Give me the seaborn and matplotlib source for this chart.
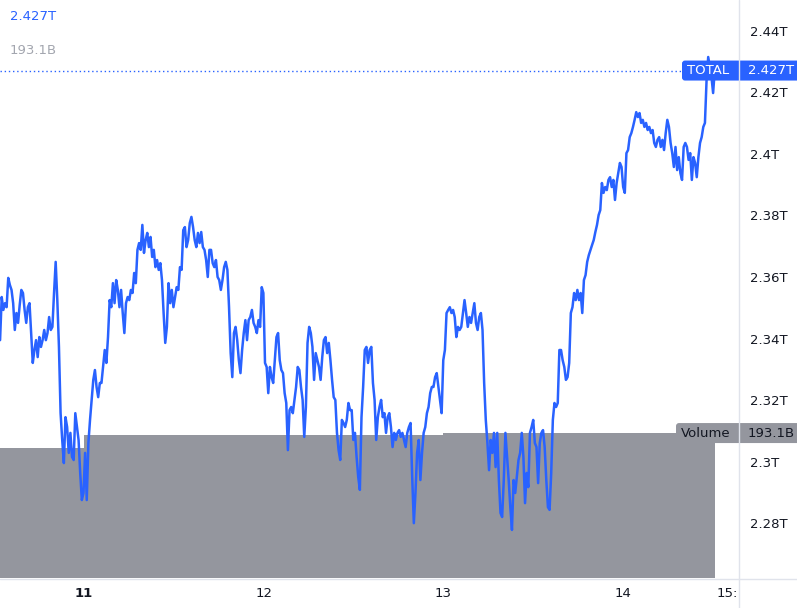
import numpy as np
import matplotlib
matplotlib.use("Agg")
import matplotlib.pyplot as plt
import seaborn as sns
from matplotlib.patches import FancyBboxPatch
from matplotlib.lines import Line2D
from matplotlib.ticker import FuncFormatter
from matplotlib.transforms import IdentityTransform, Bbox

# total crypto market cap (billions USD), evenly spaced in time
total_b = [
    2339.5, 2353.5, 2349.3, 2351.5, 2350.2, 2359.7, 2357.4, 2355.8, 2351.5, 2342.8, 2348.3,
    2345.1, 2350.9, 2355.8, 2354.8, 2349.3, 2345.1, 2350.2, 2351.5, 2341.8, 2332.1, 2336.3, 2339.5,
    2334.0, 2340.5, 2337.3, 2339.5, 2342.8, 2339.5, 2341.8, 2347.0, 2342.8, 2343.8, 2354.8,
    2364.9, 2352.5, 2337.3, 2315.8, 2307.1, 2299.6, 2314.5, 2311.3, 2302.9, 2309.4,
    2301.6, 2300.6, 2315.8, 2311.3, 2307.1, 2296.4, 2287.6, 2289.9, 2302.9, 2287.6,
    2306.1, 2313.6, 2320.1, 2326.6, 2329.8, 2324.3, 2321.0, 2325.6, 2325.6, 2330.8, 2336.3,
    2332.1, 2340.5, 2352.5, 2350.2, 2358.0, 2351.5, 2359.0, 2355.8, 2350.2, 2355.8,
    2348.3, 2341.8, 2351.5, 2353.5, 2352.5, 2355.8, 2354.8, 2361.3, 2358.0, 2368.8,
    2371.0, 2368.8,
    2376.9, 2367.8, 2372.0, 2374.3, 2369.7, 2373.0, 2366.5, 2368.8, 2363.2, 2365.5,
    2362.3, 2364.5, 2359.0, 2348.3, 2338.6, 2343.8, 2358.0, 2351.5, 2355.8, 2350.2,
    2353.5, 2356.7,
    2355.8, 2363.2, 2362.3, 2375.2, 2376.2, 2369.7, 2372.0, 2377.5, 2379.5, 2376.2,
    2372.0, 2369.7, 2374.3, 2371.0, 2374.6, 2369.7, 2368.8, 2365.5, 2360.0, 2368.8,
    2368.8, 2364.5, 2363.2, 2365.5, 2360.0, 2359.0, 2355.8, 2359.0, 2363.2, 2364.9,
    2362.3, 2350.2, 2335.3, 2327.5, 2341.8, 2343.8, 2339.5, 2333.0, 2328.8, 2336.3,
    2341.8, 2346.0, 2339.5, 2346.0, 2347.0, 2349.3, 2345.1, 2343.8, 2341.8, 2346.0,
    2343.8, 2356.7, 2354.8, 2332.1, 2330.8, 2322.3, 2330.8, 2327.5, 2325.6, 2333.0,
    2340.5, 2341.8, 2333.0, 2329.8, 2328.8, 2322.3, 2319.1, 2303.8, 2316.8, 2317.8,
    2315.8, 2320.1, 2324.3, 2330.8, 2329.8, 2324.3, 2320.1, 2308.1, 2317.8, 2338.6,
    2343.8, 2341.8, 2337.3, 2326.6, 2335.3, 2333.0, 2330.8, 2326.6, 2334.0, 2339.5,
    2340.5, 2335.3, 2338.6, 2333.0, 2326.6, 2321.0, 2320.1, 2309.4, 2303.8, 2300.6,
    2313.6, 2312.6, 2311.3, 2313.6, 2319.1, 2316.8, 2316.8, 2307.1, 2309.4, 2301.6,
    2295.1, 2290.9, 2314.5, 2324.3, 2336.3, 2337.3, 2332.1, 2336.3, 2337.3, 2325.6,
    2320.1, 2307.1, 2314.5, 2317.8, 2320.1, 2314.5, 2315.8, 2309.4, 2314.5, 2315.8,
    2311.3, 2304.8, 2309.4, 2307.1, 2309.4, 2310.3, 2308.1, 2309.4, 2307.1, 2304.8,
    2309.4, 2311.3, 2312.6, 2295.1, 2280.1, 2289.9, 2302.9, 2307.1, 2294.1, 2302.9,
    2309.4, 2311.3, 2315.8, 2317.8, 2322.3, 2324.3, 2324.3, 2327.5, 2328.8, 2324.3,
    2320.1, 2315.8, 2333.0, 2336.3, 2348.3, 2349.3, 2350.2, 2348.3, 2349.3, 2347.0,
    2340.5, 2343.8, 2342.8, 2343.8, 2348.3, 2352.5, 2348.3, 2343.8, 2347.0, 2345.1,
    2348.3, 2351.5, 2345.1, 2342.8, 2347.0, 2348.3, 2342.8, 2325.6, 2313.6, 2306.1,
    2297.3, 2307.1, 2302.9, 2309.4, 2298.3, 2309.4, 2294.1, 2283.4, 2282.1, 2294.1,
    2309.4, 2301.6, 2294.1, 2285.3, 2277.9, 2294.1, 2289.9, 2295.1, 2300.6, 2302.9,
    2309.4, 2301.6, 2286.6, 2296.4, 2291.8, 2309.4, 2311.3, 2313.6, 2306.1, 2304.8,
    2293.1, 2306.1, 2309.4, 2310.3, 2304.8, 2294.1, 2285.3, 2284.4, 2296.4, 2313.6,
    2319.1, 2317.8, 2319.1, 2336.3, 2336.3, 2333.0, 2330.8, 2326.6, 2327.5, 2332.1,
    2348.3, 2350.2, 2354.8, 2352.5, 2355.8, 2352.5, 2354.8, 2348.3, 2359.0, 2360.6,
    2364.9, 2367.1, 2368.8, 2370.4, 2372.0, 2374.6, 2376.9, 2380.1, 2381.7, 2390.5,
    2387.3, 2389.2, 2388.2, 2391.5, 2392.4, 2389.2, 2391.5, 2385.0, 2390.5, 2393.7,
    2397.0, 2395.7, 2389.2, 2387.3, 2400.2, 2401.2, 2405.4, 2406.7, 2408.7, 2411.0,
    2413.5, 2411.9, 2413.2, 2410.0, 2411.0, 2408.7, 2410.0, 2407.7, 2408.7, 2406.7,
    2407.7, 2403.5, 2402.2, 2404.5, 2405.4, 2402.2, 2404.5, 2401.2, 2406.7, 2411.0,
    2408.7, 2403.5, 2400.2, 2395.7, 2402.2, 2394.7, 2398.9, 2393.7, 2391.5, 2402.2,
    2403.5, 2402.2, 2398.0, 2400.2, 2391.5, 2398.9, 2397.0, 2392.4, 2398.9, 2403.5,
    2405.4, 2408.7, 2410.0, 2423.9, 2431.4, 2428.2, 2424.9, 2419.7, 2427.0,
]
t_start, t_end = 10.533, 14.51      # day of month of first / last sample

# volume bars (2 day bars), start day and value in billions
vol_start = [9, 11, 13]
vol_b = [173.2, 190.4, 193.1]

day_ticks = [11, 12, 13, 14]
day_labels = ["11", "12", "13", "14"]
time_tick, time_label = 14.625, "15:00"
price_ticks = [2280, 2300, 2320, 2340, 2360, 2380, 2400, 2420, 2440]

BLUE = "#2962ff"
GRAY = "#94969e"
TXT = "#131722"
SEP = "#e0e3eb"

sns.set_style("white")
plt.rcParams["font.family"] = ["DejaVu Sans"]

W, H = 797, 608
fig = plt.figure(figsize=(W / 100, H / 100), dpi=100)
ax_vol = fig.add_axes([0, 30 / H, 738 / W, 578 / H])
ax = ax_vol.twinx()

# volume behind the price line
widths = list(np.diff(vol_start)) + [t_end - vol_start[-1]]
ax_vol.bar(vol_start, vol_b, width=widths, align="edge", color=GRAY, linewidth=0)
ax_vol.set_ylim(0, 770)
ax_vol.set_yticks([])

t = np.linspace(t_start, t_end, len(total_b))
sns.lineplot(x=t, y=total_b, ax=ax, color=BLUE, linewidth=1.8)
ax.set_ylim(2262.3, 2449.9)
ax_vol.set_xlim(10.5326, 14.6394)
ax.set_xlabel("")
ax.set_ylabel("")

ax.set_yticks(price_ticks)
ax.yaxis.set_major_formatter(FuncFormatter(lambda v, p: f"{v / 1000:g}T"))
ax.tick_params(axis="y", length=0, pad=8.5, labelsize=9.5, labelcolor=TXT)

ax_vol.set_xticks(day_ticks)
labs = ax_vol.set_xticklabels(day_labels)
labs[0].set_fontweight("bold")
ax_vol.tick_params(axis="x", length=0, pad=6.5, labelsize=9.5, labelcolor=TXT)

for a in (ax_vol, ax):
    for s in a.spines.values():
        s.set_visible(False)

# time label at the right edge, cut by the price scale
x15 = ax_vol.transData.transform((time_tick, 0))[0]
lab = fig.text(x15 / W, 1 - 587 / H, time_label, ha="center", va="top",
               fontsize=9.5, color=TXT)
lab.set_clip_box(Bbox.from_extents(0, 0, 738, H))
lab.set_clip_on(True)

# pane separators
fig.add_artist(Line2D([738.5 / W, 738.5 / W], [0, 1], color=SEP, lw=1))
fig.add_artist(Line2D([0, 1], [1 - 578.5 / H, 1 - 578.5 / H], color=SEP, lw=1))

# last price line + labels
last = total_b[-1]
ax.axhline(last, xmin=0, xmax=682 / 738, color=BLUE, linestyle=(0, (1, 2)), linewidth=1)


def tag(x0, yc, color, left, right, tcolor):
    box = FancyBboxPatch((x0, yc - 10), W + 5 - x0, 20,
                         boxstyle="round,pad=0,rounding_size=3",
                         transform=IdentityTransform(), color=color, lw=0)
    fig.add_artist(box)
    fig.text((x0 + 5) / W, yc / H, left, color=tcolor, fontsize=9.5, va="center")
    fig.text(748 / W, yc / H, right, color=tcolor, fontsize=9.5, va="center")


y_last = ax.transData.transform((0, last))[1]
tag(682, y_last, BLUE, "TOTAL", f"{last / 1000:.3f}T", "white")
y_vol = ax_vol.transData.transform((0, vol_b[-1]))[1]
tag(676, y_vol, GRAY, "Volume", f"{vol_b[-1]:.1f}B", TXT)

# legend values top left
fig.text(10 / W, 1 - 17 / H, f"{last / 1000:.3f}T", color=BLUE, fontsize=9.5, va="center")
fig.text(10 / W, 1 - 50 / H, f"{vol_b[-1]:.1f}B", color="#a3a6af", fontsize=9.5, va="center")

fig.savefig("out.png", dpi=100)
